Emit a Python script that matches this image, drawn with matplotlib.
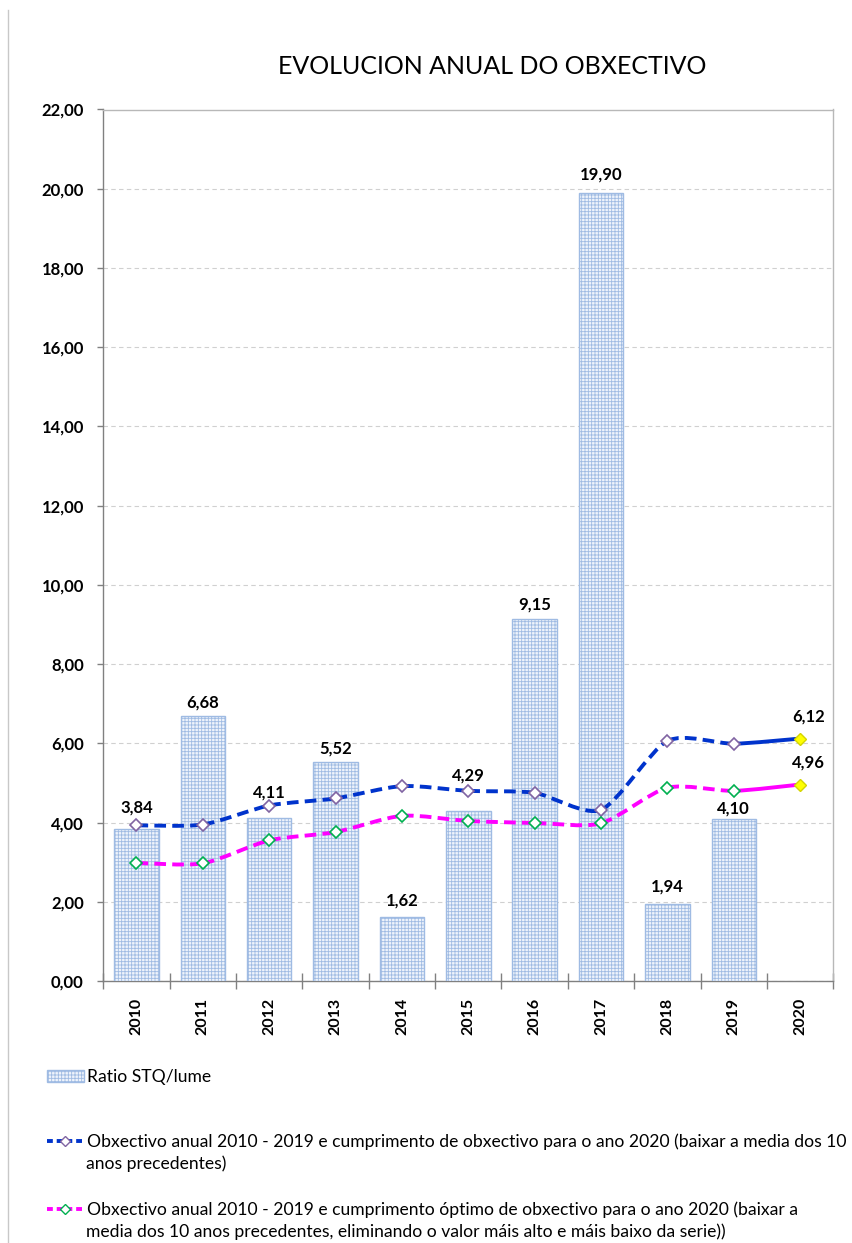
import numpy as np
import matplotlib
matplotlib.use("Agg")
import matplotlib.pyplot as plt
from matplotlib.path import Path
from matplotlib.patches import PathPatch, Patch
from matplotlib.lines import Line2D

plt.rcParams['font.family'] = ['Lato', 'DejaVu Sans']
plt.rcParams['hatch.linewidth'] = 0.6
plt.rcParams['hatch.color'] = '#a3bce3'

years = ['2010', '2011', '2012', '2013', '2014', '2015', '2016', '2017', '2018', '2019', '2020']
ratio = [3.84, 6.68, 4.11, 5.52, 1.62, 4.29, 9.15, 19.90, 1.94, 4.10]
obx_media = [3.93, 3.95, 4.43, 4.61, 4.92, 4.80, 4.75, 4.32, 6.06, 5.99, 6.12]
obx_optimo = [2.98, 2.97, 3.55, 3.76, 4.17, 4.04, 3.99, 3.98, 4.88, 4.80, 4.96]

lbl_bar = 'Ratio STQ/lume'
lbl_media = ['Obxectivo anual 2010 - 2019 e cumprimento de obxectivo para o ano 2020 (baixar a media dos 10',
             'anos precedentes)']
lbl_optimo = ['Obxectivo anual 2010 - 2019 e cumprimento óptimo de obxectivo para o ano 2020 (baixar a',
              'media dos 10 anos precedentes, eliminando o valor máis alto e máis baixo da serie))']

BLUE = '#0033cc'
MAGENTA = '#ff00ff'
PURPLE = '#8064a2'
GREEN = '#00b050'
W, H = 852, 1243


def fx(px):
    return px / W


def fy(py):
    return 1 - py / H


def smooth_segments(xs, ys, k=8):
    # Bezier segments, a light version of Excel's "smoothed line"
    p = np.column_stack([xs, ys]).astype(float)
    n = len(p)
    segs = []
    for i in range(n - 1):
        p0 = p[i - 1] if i > 0 else p[i]
        p3 = p[i + 2] if i + 2 < n else p[i + 1]
        c1 = p[i] + (p[i + 1] - p0) / k
        c2 = p[i + 1] - (p3 - p[i]) / k
        segs.append([p[i], c1, c2, p[i + 1]])
    return segs


def draw_series(ax, vals, color, edge):
    x = np.arange(len(vals))
    segs = smooth_segments(x, vals)
    codes = [Path.MOVETO, Path.CURVE4, Path.CURVE4, Path.CURVE4]
    verts, cc = [], []
    for s in segs[:-1]:
        verts += s
        cc += codes
    ax.add_patch(PathPatch(Path(verts, cc), fill=False, edgecolor=color, lw=2.8,
                           linestyle=(0, (3.0, 1.6)), capstyle='butt', zorder=4))
    ax.add_patch(PathPatch(Path(segs[-1], codes), fill=False, edgecolor=color, lw=2.8,
                           capstyle='butt', zorder=4))
    ax.plot(x[:-1], vals[:-1], linestyle='none', marker='D', ms=6.2, mfc='white',
            mec=edge, mew=1.2, zorder=5)
    ax.plot(x[-1:], vals[-1:], linestyle='none', marker='D', ms=6.2, mfc='#ffff00',
            mec='#d4d400', mew=1.0, zorder=5)


fig = plt.figure(figsize=(W / 100, H / 100), dpi=100)
ax = fig.add_axes([fx(103.3), fy(981), fx(833.3) - fx(103.3), fy(109.5) - fy(981)])

xb = np.arange(len(ratio))
ax.bar(xb, ratio, width=0.67, facecolor='#eef3fb', edgecolor='#9fbbe3', linewidth=1.0,
       hatch='+++++', zorder=3)

draw_series(ax, obx_media, BLUE, PURPLE)
draw_series(ax, obx_optimo, MAGENTA, GREEN)

# data labels
bar_off = [21, 14, 26, 14, 16, 36, 14, 18, 18, 10]
for i, v in enumerate(ratio):
    ax.annotate(f'{v:.2f}'.replace('.', ','), (xb[i], v), xytext=(0, bar_off[i] * 0.72),
                textcoords='offset points', ha='center', va='center', fontsize=12,
                fontweight='bold', zorder=6)
for vals in (obx_media, obx_optimo):
    ax.annotate(f'{vals[-1]:.2f}'.replace('.', ','), (10, vals[-1]), xytext=(6, 16),
                textcoords='offset points', ha='center', va='center', fontsize=12,
                fontweight='bold', zorder=6)

ax.set_xlim(-0.5, 10.5)
ax.set_ylim(0, 22)
yt = np.arange(0, 23, 2)
ax.set_yticks(yt)
ax.set_yticklabels([f'{t:.2f}'.replace('.', ',') for t in yt], fontsize=12, fontweight='bold')
ax.tick_params(axis='y', length=4, width=1, color='#808080', pad=10)

ax.set_xticks(np.arange(-0.5, 11, 1))
ax.set_xticklabels([])
ax.set_xticks(np.arange(11), minor=True)
ax.set_xticklabels(years, minor=True, rotation=90, fontsize=11.5, fontweight='bold')
ax.tick_params(axis='x', which='major', length=11, width=1, color='#808080',
               direction='inout')
ax.tick_params(axis='x', which='minor', length=0, pad=12)

ax.grid(axis='y', linestyle=(0, (4, 3)), color='#d0d0d0', linewidth=0.8, zorder=0)
ax.set_axisbelow(True)
for s in ['left', 'bottom']:
    ax.spines[s].set_color('#808080')
    ax.spines[s].set_linewidth(1.0)
for s in ['top', 'right']:
    ax.spines[s].set_color('#b8b8b8')
    ax.spines[s].set_linewidth(1.0)

fig.text(fx(492), fy(67), 'EVOLUCION ANUAL DO OBXECTIVO', ha='center', va='center',
         fontsize=18)

# chart area border on the left
fig.add_artist(Line2D([fx(8), fx(8)], [fy(10), fy(1243)], color='#c8c8c8', lw=1.0))

# legend, one entry at a time
leg_kw = dict(frameon=False, borderpad=0, borderaxespad=0, handlelength=2.1,
              handletextpad=0.2, fontsize=12.6, loc='center left')
h_bar = Patch(facecolor='#eef3fb', edgecolor='#9fbbe3', hatch='+++++')
h_media = Line2D([], [], color=BLUE, lw=2.8, linestyle=(0, (1.5, 1.0)), marker='D', ms=5,
                 mfc='white', mec=PURPLE)
h_opt = Line2D([], [], color=MAGENTA, lw=2.8, linestyle=(0, (1.5, 1.0)), marker='D', ms=5,
               mfc='white', mec=GREEN)
fig.legend([h_bar], [lbl_bar], bbox_to_anchor=(fx(47), fy(1077)), **leg_kw)
fig.legend([h_media], [lbl_media[0]], bbox_to_anchor=(fx(47), fy(1142)), **leg_kw)
fig.legend([h_opt], [lbl_optimo[0]], bbox_to_anchor=(fx(47), fy(1210)), **leg_kw)
fig.text(fx(86), fy(1164), lbl_media[1], fontsize=12.6, va='center')
fig.text(fx(86), fy(1232), lbl_optimo[1], fontsize=12.6, va='center')

fig.savefig('out.png', dpi=100)
